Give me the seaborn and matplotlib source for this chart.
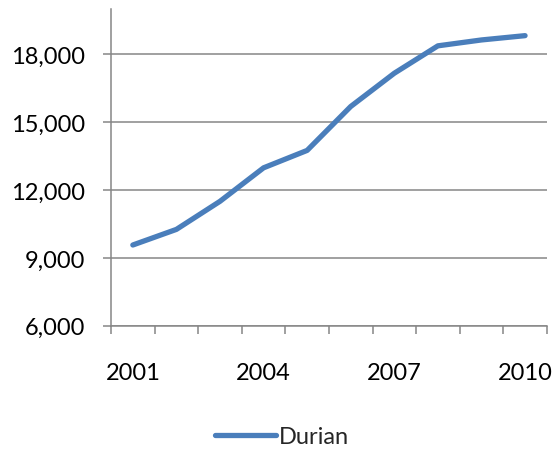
import matplotlib
matplotlib.use("Agg")
import matplotlib.pyplot as plt
import seaborn as sns
import pandas as pd
from matplotlib.ticker import FixedLocator, FuncFormatter

years = [2001, 2002, 2003, 2004, 2005, 2006, 2007, 2008, 2009, 2010]
durian = [9570, 10260, 11500, 12980, 13750, 15690, 17160, 18370, 18630, 18820]
series_name = "Durian"
y_ticks = [6000, 9000, 12000, 15000, 18000]
x_label_years = [2001, 2004, 2007, 2010]

df = pd.DataFrame({"Year": years, "Value": durian, "Series": series_name})

sns.set_theme(style="white")
plt.rcParams["font.family"] = ["Lato", "DejaVu Sans"]

fig = plt.figure(figsize=(5.58, 4.52), dpi=100)
ax = fig.add_axes([0.199, 0.277, 0.781, 0.701])

grid_color = "#868686"
line_color = "#4A7EBB"

sns.lineplot(data=df, x="Year", y="Value", hue="Series", palette=[line_color],
             linewidth=3.8, ax=ax, legend=False, solid_capstyle="round")

ax.set_xlim(2000.5, 2010.5)
ax.set_ylim(6000, 20000)

ax.yaxis.set_major_locator(FixedLocator(y_ticks))
ax.yaxis.set_major_formatter(FuncFormatter(lambda v, p: f"{int(v):,}"))
ax.grid(axis="y", color=grid_color, linewidth=1.1)
ax.grid(axis="x", visible=False)

ax.xaxis.set_major_locator(FixedLocator(x_label_years))
ax.xaxis.set_minor_locator(FixedLocator([y - 0.5 for y in years] + [years[-1] + 0.5]))
ax.tick_params(axis="x", which="major", length=0, pad=26, labelsize=17, colors="black")
ax.tick_params(axis="x", which="minor", length=6, width=1.1, color=grid_color, direction="out", bottom=True)
ax.tick_params(axis="y", which="major", length=6, width=1.1, color=grid_color, direction="out",
               pad=13, labelsize=17, labelcolor="black", left=True)

ax.set_xlabel("")
ax.set_ylabel("")

for side in ["top", "right"]:
    ax.spines[side].set_visible(False)
for side in ["left", "bottom"]:
    ax.spines[side].set_color(grid_color)
    ax.spines[side].set_linewidth(1.1)

from matplotlib.lines import Line2D
handle = Line2D([0], [0], color=line_color, linewidth=3.8, solid_capstyle="round")
fig.legend([handle], [series_name], loc="center", bbox_to_anchor=(0.505, 1 - 438 / 452),
           frameon=False, fontsize=17, handlelength=2.6, handletextpad=0.1)

fig.savefig("out.png", dpi=100, facecolor="white")
